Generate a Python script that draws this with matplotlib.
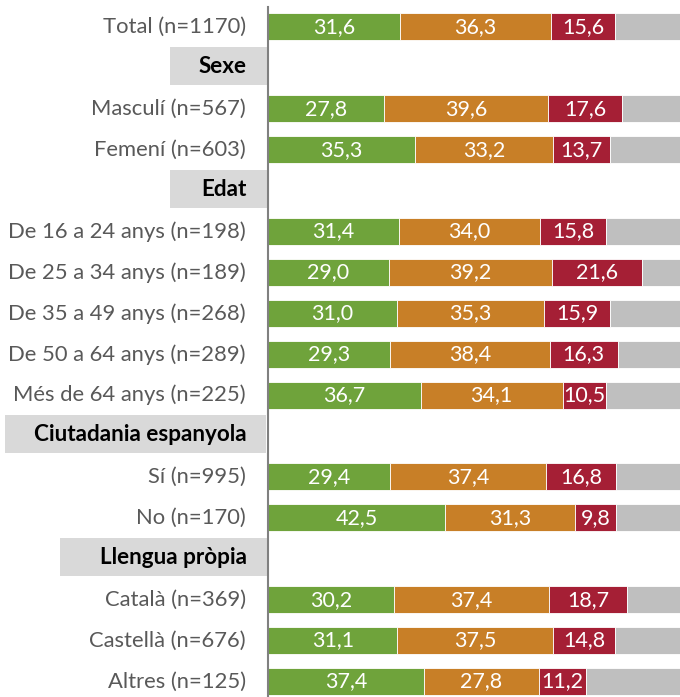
import numpy as np
import matplotlib.pyplot as plt
from matplotlib.patches import Rectangle
import matplotlib.transforms as mtransforms

# Files del gràfic (capçaleres de secció marcades a is_header)
labels = ['Total (n=1170)', 'Sexe', 'Masculí (n=567)', 'Femení (n=603)', 'Edat',
          'De 16 a 24 anys (n=198)', 'De 25 a 34 anys (n=189)', 'De 35 a 49 anys (n=268)',
          'De 50 a 64 anys (n=289)', 'Més de 64 anys (n=225)', 'Ciutadania espanyola',
          'Sí (n=995)', 'No (n=170)', 'Llengua pròpia',
          'Català (n=369)', 'Castellà (n=676)', 'Altres (n=125)']
is_header = [False, True, False, False, True, False, False, False, False, False,
             True, False, False, True, False, False, False]

serie1 = [31.6, None, 27.8, 35.3, None, 31.4, 29.0, 31.0, 29.3, 36.7, None, 29.4, 42.5, None, 30.2, 31.1, 37.4]
serie2 = [36.3, None, 39.6, 33.2, None, 34.0, 39.2, 35.3, 38.4, 34.1, None, 37.4, 31.3, None, 37.4, 37.5, 27.8]
serie3 = [15.6, None, 17.6, 13.7, None, 15.8, 21.6, 15.9, 16.3, 10.5, None, 16.8, 9.8, None, 18.7, 14.8, 11.2]

colors = ['#6fa33b', '#c87f27', '#a51f35']
grey = '#bfbfbf'

plt.rcParams['font.family'] = ['Lato', 'DejaVu Sans']

fig = plt.figure(figsize=(6.8, 6.97), dpi=100)
ax = fig.add_axes([268 / 680, 0, 412 / 680, 690.5 / 697])

n = len(labels)
y = np.arange(n)
h = 0.66

for i in range(n):
    if is_header[i]:
        continue
    vals = [serie1[i], serie2[i], serie3[i]]
    left = 0
    for v, c in zip(vals, colors):
        ax.barh(y[i], v, left=left, height=h, color=c, edgecolor='white', linewidth=0.6)
        ax.text(left + v / 2, y[i], f'{v:.1f}'.replace('.', ','), ha='center', va='center',
                color='white', fontsize=15.5)
        left += v
    # resta fins a 100 (gris)
    ax.barh(y[i], 100 - left, left=left, height=h, color=grey, edgecolor='white', linewidth=0.6)

ax.set_xlim(0, 99)
ax.set_ylim(16.38, -0.5)
ax.set_yticks([])
ax.set_xticks([])
for s in ['top', 'right', 'bottom']:
    ax.spines[s].set_visible(False)
ax.spines['left'].set_color('#808080')
ax.spines['left'].set_linewidth(1.5)

# Etiquetes i capçaleres
trans = mtransforms.blended_transform_factory(ax.transAxes, ax.transData)
px = 1 / 412  # un píxel en fracció d'eixos
box_left = {'Sexe': 170, 'Edat': 170, 'Ciutadania espanyola': 5, 'Llengua pròpia': 60}
for i in range(n):
    if is_header[i]:
        x0 = (box_left[labels[i]] - 268) * px
        ax.add_patch(Rectangle((x0, y[i] - 0.51), -x0 - 1.5 * px, 0.93, transform=trans,
                               facecolor='#d9d9d9', edgecolor='none', clip_on=False))
        ax.text(-21 * px, y[i] - 0.03, labels[i], transform=trans, ha='right', va='center',
                fontsize=16.2, fontweight='bold', color='black')
    else:
        ax.text(-22 * px, y[i], labels[i], transform=trans, ha='right', va='center',
                fontsize=15.8, color='#595959')

fig.savefig('out.png', dpi=100)
